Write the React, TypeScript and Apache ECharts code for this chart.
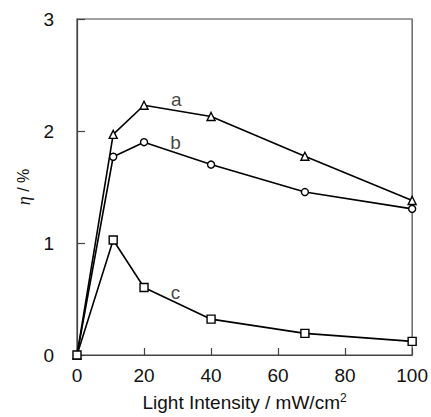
import React, { useEffect, useRef } from "react";
import * as echarts from "echarts";

const xValues = [0, 10.8, 20, 40, 68, 100];
const seriesA = [0, 1.97, 2.23, 2.13, 1.775, 1.38];
const seriesB = [0, 1.77, 1.9, 1.7, 1.455, 1.305];
const seriesC = [0, 1.027, 0.603, 0.32, 0.193, 0.122];
const seriesNames = ["a", "b", "c"];
const labelPositions: [number, number][] = [
  [29.6, 2.28],
  [29.4, 1.9],
  [29.4, 0.56],
];
const xTicks = [0, 20, 40, 60, 80, 100];
const yTicks = [0, 1, 2, 3];

const FONT = "'Liberation Sans', Arial, Helvetica, sans-serif";

export default function App() {
  const ref = useRef<HTMLDivElement>(null);
  useEffect(() => {
    if (!ref.current) return;
    const chart = echarts.init(ref.current, undefined, { renderer: "svg" });
    const mk = (vals: number[], symbol: string, size: number, name: string) => ({
      type: "line",
      name,
      data: xValues.map((x, i) => [x, vals[i]]),
      symbol,
      symbolSize: size,
      showAllSymbol: true,
      lineStyle: { color: "#000", width: 1.6 },
      itemStyle: { color: "#fff", borderColor: "#000", borderWidth: 1.4 },
      z: 3,
    });
    chart.setOption({
      animation: false,
      backgroundColor: "#fff",
      textStyle: { fontFamily: FONT },
      grid: {
        left: 77,
        right: 17,
        top: 19,
        bottom: 61,
        show: true,
        borderColor: "#444",
        borderWidth: 1.2,
        backgroundColor: "transparent",
      },
      xAxis: {
        type: "value",
        min: xTicks[0],
        max: xTicks[xTicks.length - 1],
        interval: 20,
        name: "{a|Light Intensity / mW/cm}{s|2}",
        nameLocation: "middle",
        nameGap: 37,
        nameTextStyle: {
          rich: {
            a: { fontSize: 19, color: "#111", fontFamily: FONT },
            s: { fontSize: 12, color: "#111", fontFamily: FONT, verticalAlign: "top", padding: [0, 0, 9, 0] },
          },
        },
        axisLine: { show: true, lineStyle: { color: "#444", width: 1.2 } },
        axisTick: { show: true, inside: true, length: 7, lineStyle: { color: "#444", width: 1.2 } },
        axisLabel: { fontSize: 19, color: "#111", margin: 11, fontFamily: FONT },
        splitLine: { show: false },
      },
      yAxis: {
        type: "value",
        min: yTicks[0],
        max: yTicks[yTicks.length - 1],
        interval: 1,
        name: "{i|η} / %",
        nameLocation: "middle",
        nameGap: 44,
        nameRotate: 90,
        nameTextStyle: {
          fontSize: 16,
          color: "#111",
          fontFamily: FONT,
          rich: {
            i: { fontSize: 18, fontStyle: "italic", fontFamily: "'Liberation Serif', 'DejaVu Serif', serif", color: "#111" },
          },
        },
        axisLine: { show: true, lineStyle: { color: "#444", width: 1.2 } },
        axisTick: { show: true, inside: true, length: 8, lineStyle: { color: "#444", width: 1.2 } },
        axisLabel: { fontSize: 19, color: "#111", margin: 23, fontFamily: FONT },
        splitLine: { show: false },
      },
      series: [
        mk(seriesA, "triangle", 8, "a"),
        mk(seriesB, "circle", 7, "b"),
        mk(seriesC, "rect", 8, "c"),
        {
          type: "scatter",
          data: labelPositions.map((p, i) => ({ value: p, name: seriesNames[i] })),
          symbolSize: 1,
          itemStyle: { color: "transparent" },
          label: {
            show: true,
            position: "inside",
            formatter: (p: any) => p.name,
            fontSize: 19,
            color: "#111",
            fontFamily: FONT,
          },
          silent: true,
          z: 4,
        },
      ],
    });
    return () => chart.dispose();
  }, []);
  return <div ref={ref} style={{ width: 431, height: 417, position: "absolute", left: 0, top: 0 }} />;
}
